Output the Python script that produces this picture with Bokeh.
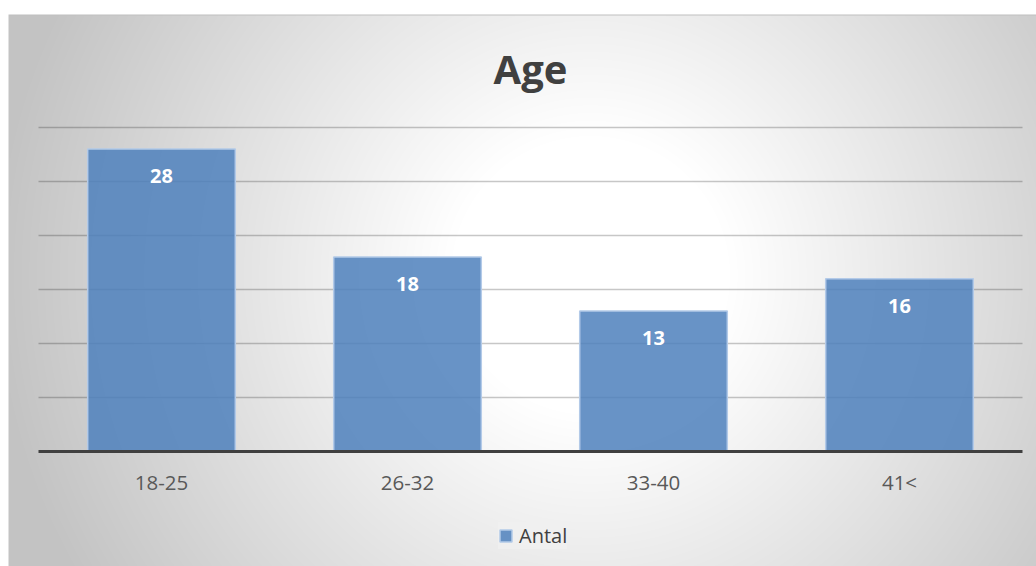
import numpy as np
from bokeh.plotting import figure
from bokeh.models import (Range1d, LinearAxis, FixedTicker, ColumnDataSource,
                          LabelSet, Label, Legend, LegendItem)
from bokeh.embed import file_html
from bokeh.resources import INLINE
from bokeh.core.properties import value

# ---------------- data ----------------
title = "Age"
categories = ["18-25", "26-32", "33-40", "41<"]
counts = [28, 18, 13, 16]
series_name = "Antal"
grid_values = [5, 10, 15, 20, 25, 30]

# ---------------- layout (pixels) ----------------
W, H = 1036, 566
first_center_px = 161      # first category centre from frame left
band_px = 246              # width of one category band
zero_px = 451              # value 0 from frame top
unit_px = 10.8             # pixels per unit
chart_top_px = 14          # top edge of chart area from frame top
chart_left_px = 8          # left edge of chart area

x_lo = -first_center_px / band_px
x_hi = (W - first_center_px) / band_px
y_hi = zero_px / unit_px
y_lo = -(H - zero_px) / unit_px

FONT = "Open Sans"

p = figure(width=W, height=H, output_backend="svg", toolbar_location=None,
           x_range=Range1d(x_lo, x_hi), y_range=Range1d(y_lo, y_hi),
           x_axis_type=None, y_axis_type=None, min_border=0,
           border_fill_color="white", background_fill_color="white")
p.outline_line_color = None

# ---------------- background radial gradient ----------------
img_h = H - chart_top_px
img_w = W - chart_left_px
rows = np.arange(img_h)[:, None]
cols = np.arange(img_w)[None, :]
page_y = H - 0.5 - rows
page_x = chart_left_px + cols + 0.5
d = np.sqrt((page_x - 590.0) ** 2 + (page_y - 275.0) ** 2)
t = np.clip((d - 140.0) / (600.0 - 140.0), 0, 1)
g = (255 - 60 * t)
g = np.broadcast_to(g, (img_h, img_w)).copy()
g[-1, :] = 192
g[:, 0] = 196
img = np.empty((img_h, img_w), dtype=np.uint32)
view = img.view(dtype=np.uint8).reshape((img_h, img_w, 4))
view[..., 0] = g.astype(np.uint8)
view[..., 1] = g.astype(np.uint8)
view[..., 2] = g.astype(np.uint8)
view[..., 3] = 255
img_x0 = (chart_left_px - first_center_px) / band_px
img_top = (zero_px - chart_top_px) / unit_px
p.image_rgba(image=[img], x=img_x0, y=y_lo, dw=x_hi - img_x0, dh=img_top - y_lo)

# ---------------- gridlines ----------------
n = len(categories)
p.segment(x0=[-0.5] * len(grid_values), x1=[n - 0.5] * len(grid_values),
          y0=grid_values, y1=grid_values,
          line_color="#000000", line_alpha=0.22, line_width=1.5)

# ---------------- bars ----------------
xs = list(range(n))
src = ColumnDataSource(dict(x=xs, count=counts, cat=categories,
                            label=[str(c) for c in counts]))
bars = p.vbar(x="x", top="count", width=0.6, source=src,
              fill_color="#4f81bd", fill_alpha=0.86,
              line_color="#b3cae8", line_width=1.5)

labels = LabelSet(x="x", y="count", text="label", source=src,
                  y_offset=-27, text_align="center", text_baseline="middle",
                  text_color="white", text_font=value(FONT),
                  text_font_style="bold", text_font_size="20px")
p.add_layout(labels)

# ---------------- x axis (baseline + category labels) ----------------
xaxis = LinearAxis(fixed_location=0, ticker=FixedTicker(ticks=xs),
                   major_label_overrides={i: c for i, c in enumerate(categories)},
                   bounds=(-0.5, n - 0.5))
xaxis.axis_line_color = "#404040"
xaxis.axis_line_width = 3
xaxis.major_tick_line_color = None
xaxis.minor_tick_line_color = None
xaxis.major_label_standoff = 10
xaxis.major_label_text_font = FONT
xaxis.major_label_text_font_size = "20.5px"
xaxis.major_label_text_color = "#595959"
p.add_layout(xaxis, "below")

# ---------------- title ----------------
p.add_layout(Label(x=530, y=H - 68, x_units="screen", y_units="screen",
                   text=title, text_align="center", text_baseline="middle",
                   text_font=FONT, text_font_style="bold",
                   text_font_size="40px", text_color="#404040"))

# ---------------- legend ----------------
legend = Legend(items=[LegendItem(label=series_name, renderers=[bars])],
                location=(498, 17), orientation="horizontal",
                glyph_width=15, glyph_height=15, label_standoff=6,
                padding=10, margin=0, spacing=0,
                label_text_font=FONT, label_text_font_size="20px",
                label_text_color="#404040",
                background_fill_color="#f0f0f0", background_fill_alpha=0.9,
                border_line_color=None)
p.add_layout(legend)

open("out.html", "w").write(file_html(p, INLINE))
